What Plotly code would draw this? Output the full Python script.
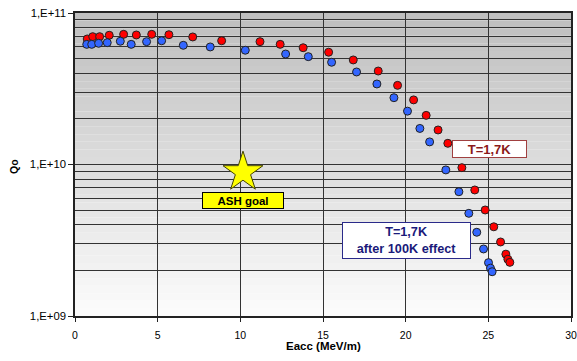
import plotly.graph_objects as go

# Data
red_eacc = [0.74, 1.07, 1.49, 2.07, 2.94, 3.71, 4.64, 5.68, 7.12, 8.87, 11.19, 12.41, 13.80, 15.34,
            16.83, 18.34, 19.51, 20.48, 21.24, 21.96, 22.55, 23.40, 24.18, 24.81, 25.33, 25.74,
            26.06, 26.18, 26.30]
red_q0 = [6.74e10, 6.98e10, 6.98e10, 7.13e10, 7.23e10, 7.16e10, 7.23e10, 7.19e10, 6.95e10, 6.56e10,
          6.47e10, 6.21e10, 5.90e10, 5.51e10, 4.90e10, 4.14e10, 3.33e10, 2.67e10, 2.11e10, 1.69e10,
          1.38e10, 9.53e9, 6.79e9, 5.01e9, 3.88e9, 3.08e9, 2.56e9, 2.37e9, 2.26e9]
blue_eacc = [0.71, 1.01, 1.43, 1.95, 2.74, 3.40, 4.33, 5.24, 6.55, 8.18, 10.30, 12.74, 14.11, 15.52,
             17.03, 18.26, 19.29, 20.11, 20.86, 21.45, 22.43, 23.22, 23.82, 24.30, 24.71, 25.01,
             25.13, 25.23]
blue_q0 = [6.21e10, 6.21e10, 6.31e10, 6.37e10, 6.51e10, 6.21e10, 6.47e10, 6.56e10, 6.12e10, 5.97e10,
           5.68e10, 5.36e10, 5.15e10, 4.73e10, 4.08e10, 3.40e10, 2.76e10, 2.25e10, 1.73e10, 1.41e10,
           9.21e9, 6.61e9, 4.76e9, 3.57e9, 2.77e9, 2.25e9, 2.07e9, 1.96e9]
goal_eacc = [10.16]
goal_q0 = [8.9e9]

y_tickvals = [1e9, 1e10, 1e11]
y_ticktext = ["1,E+09", "1,E+10", "1,E+11"]
x_tickvals = [0, 5, 10, 15, 20, 25, 30]

FONT = "Liberation Sans, Arial, sans-serif"

fig = go.Figure()

fig.add_trace(go.Scatter(x=red_eacc, y=red_q0, mode="markers",
                         marker=dict(color="#ff0000", size=8, line=dict(color="#222222", width=1)),
                         showlegend=False, cliponaxis=False))
fig.add_trace(go.Scatter(x=blue_eacc, y=blue_q0, mode="markers",
                         marker=dict(color="#3366ff", size=8, line=dict(color="#222222", width=1)),
                         showlegend=False, cliponaxis=False))
fig.add_trace(go.Scatter(x=goal_eacc, y=goal_q0, mode="markers",
                         marker=dict(symbol="star", color="#ffff00", size=30,
                                     line=dict(color="#444400", width=1)),
                         showlegend=False))

# vertical gradient background (gray at top to nearly white at bottom)
shapes = []
n = 40
for i in range(n):
    v = int(round(252 - (252 - 190) * ((i + 0.5) / n)))
    shapes.append(dict(type="rect", xref="paper", yref="paper", x0=0, x1=1,
                       y0=i / n, y1=(i + 1) / n, fillcolor=f"rgb({v},{v},{v})",
                       line=dict(width=0), layer="below"))

minor_vals = []
for d in [1e9, 1e10]:
    for k in range(2, 10):
        minor_vals.append(k * d)

W, H = 577, 361
L, R, T, B = 75, 6, 13, 45
pw, ph = W - L - R, H - T - B

annotations = [
    dict(x=10.16, y=9.762, xref="x", yref="y", text="<b>ASH goal</b>", showarrow=False,
         font=dict(family=FONT, size=11.5, color="#000000"), bgcolor="#ffff00",
         bordercolor="#000000", borderwidth=1, borderpad=0, width=80, height=15),
    dict(x=25.09, y=10.102, xref="x", yref="y", text="<b>T=1,7K</b>", showarrow=False,
         font=dict(family=FONT, size=13, color="#8b1a1a"), bgcolor="#ffffff",
         bordercolor="#a04040", borderwidth=1, borderpad=0, width=73, height=16),
    dict(x=20.08, y=9.496, xref="x", yref="y", text="<b>T=1,7K<br>after 100K effect</b>",
         showarrow=False, font=dict(family=FONT, size=12.7, color="#1a1a7a"), bgcolor="#ffffff",
         bordercolor="#2a2a8a", borderwidth=1, borderpad=0, width=127, height=35),
    dict(x=13.5, y=166.5, xref="paper", yref="paper", text="<b>Qo</b>", showarrow=False,
         xanchor="center", yanchor="middle",
         font=dict(family=FONT, size=10.5, color="#000000"), textangle=-90),
    dict(x=323.5, y=346, xref="paper", yref="paper", text="<b>Eacc (MeV/m)</b>", showarrow=False,
         xanchor="center", yanchor="middle",
         font=dict(family=FONT, size=11.5, color="#000000")),
]

# convert pixel positions of the axis titles into paper coordinates
for a in annotations[3:]:
    a["x"] = (a["x"] - L) / pw
    a["y"] = (H - B - a["y"]) / ph

fig.update_layout(
    width=W, height=H,
    margin=dict(l=L, r=R, t=T, b=B),
    paper_bgcolor="#ffffff", plot_bgcolor="rgba(0,0,0,0)",
    shapes=shapes, annotations=annotations,
    font=dict(family=FONT, size=10, color="#000000"),
    xaxis=dict(range=[0, 30], tickvals=x_tickvals, ticks="outside", ticklen=4,
               tickcolor="#222", showgrid=True, gridcolor="#333333", gridwidth=1,
               showline=True, linecolor="#222222", linewidth=1.5, mirror=True, zeroline=False,
               tickfont=dict(family=FONT, size=10.5), ticklabelstandoff=5, automargin=False),
    yaxis=dict(type="log", range=[9, 11], tickvals=y_tickvals, ticktext=y_ticktext,
               ticks="outside", ticklen=5, tickcolor="#222",
               showgrid=True, gridcolor="#333333", gridwidth=1,
               minor=dict(tickvals=minor_vals, showgrid=True, gridcolor="#333333", gridwidth=1, ticks=""),
               showline=True, linecolor="#222222", linewidth=1.5, mirror=True, zeroline=False,
               tickfont=dict(family=FONT, size=11.3), automargin=False),
)

fig.write_html("out.html", config={"displayModeBar": False},
               post_script="document.body.style.margin='0';")
